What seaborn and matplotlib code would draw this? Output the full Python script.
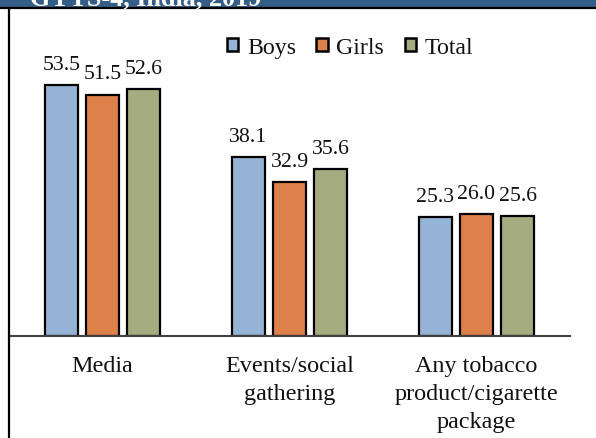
import matplotlib
matplotlib.use("Agg")
import matplotlib.pyplot as plt
from matplotlib.lines import Line2D
from matplotlib.patches import Rectangle
import seaborn as sns
import pandas as pd

# Exposure to tobacco promotion, by place of exposure (%)
categories = ["Media", "Events/social\ngathering", "Any tobacco\nproduct/cigarette\npackage"]
boys = [53.5, 38.1, 25.3]
girls = [51.5, 32.9, 26.0]
total = [52.6, 35.6, 25.6]
groups = ["Boys", "Girls", "Total"]
title = "GYTS-4, India, 2019"

colors = {"Boys": "#95B4D5", "Girls": "#DE8049", "Total": "#A5AD80"}

df = pd.DataFrame({
    "category": categories * 3,
    "group": ["Boys"] * 3 + ["Girls"] * 3 + ["Total"] * 3,
    "value": boys + girls + total,
})

sns.set_theme(style="white")
plt.rcParams["font.family"] = ["Liberation Serif", "DejaVu Serif"]

W, H = 596, 439
fig = plt.figure(figsize=(W / 100, H / 100), dpi=100)
ax = fig.add_axes([9 / W, 1 - 336.7 / H, 561 / W, 327.7 / H])

sns.barplot(data=df, x="category", y="value", hue="group", order=categories,
            hue_order=groups, palette=colors, width=0.66, gap=0.2,
            edgecolor="black", linewidth=1.6, saturation=1, ax=ax)

for cont in ax.containers:
    ax.bar_label(cont, fmt="%.1f", padding=8, fontsize=15.7, color="#111111")

ax.set_xlim(-0.5, 2.5)
ax.set_ylim(0, 70)
ax.set_xlabel("")
ax.set_ylabel("")
ax.set_yticks([])
ax.tick_params(axis="x", length=0, pad=14, labelsize=17.4, colors="#111111")
for lbl in ax.get_xticklabels():
    lbl.set_linespacing(1.42)
for side in ["top", "right", "left"]:
    ax.spines[side].set_visible(False)
ax.spines["bottom"].set_color("#404040")
ax.spines["bottom"].set_linewidth(1.5)

handles, labels = ax.get_legend_handles_labels()
ax.get_legend().remove()
leg = fig.legend(handles, labels, loc="center", bbox_to_anchor=(350 / W, 1 - 48.5 / H),
                 ncol=3, frameon=False, fontsize=17.2, handlelength=0.5,
                 handleheight=0.5, handletextpad=0.35, columnspacing=0.85,
                 borderpad=0, labelcolor="#111111")
for h in leg.legend_handles:
    h.set_linewidth(1.8)

# header band with the survey title
fig.patches.append(Rectangle((0, 1 - 7.5 / H), 1, 7.5 / H, transform=fig.transFigure,
                             facecolor="#355E86", edgecolor="none", zorder=0))
fig.lines.append(Line2D([0, 1], [1 - 8.5 / H, 1 - 8.5 / H], transform=fig.transFigure,
                        color="black", lw=1.6))
fig.lines.append(Line2D([8.5 / W, 8.5 / W], [0, 1 - 8.5 / H], transform=fig.transFigure,
                        color="black", lw=1.6))
fig.text(30 / W, 1 - 5 / H, title, color="white", fontsize=18.8, fontweight="bold",
         ha="left", va="baseline")

fig.savefig("out.png", dpi=100, facecolor="white")
